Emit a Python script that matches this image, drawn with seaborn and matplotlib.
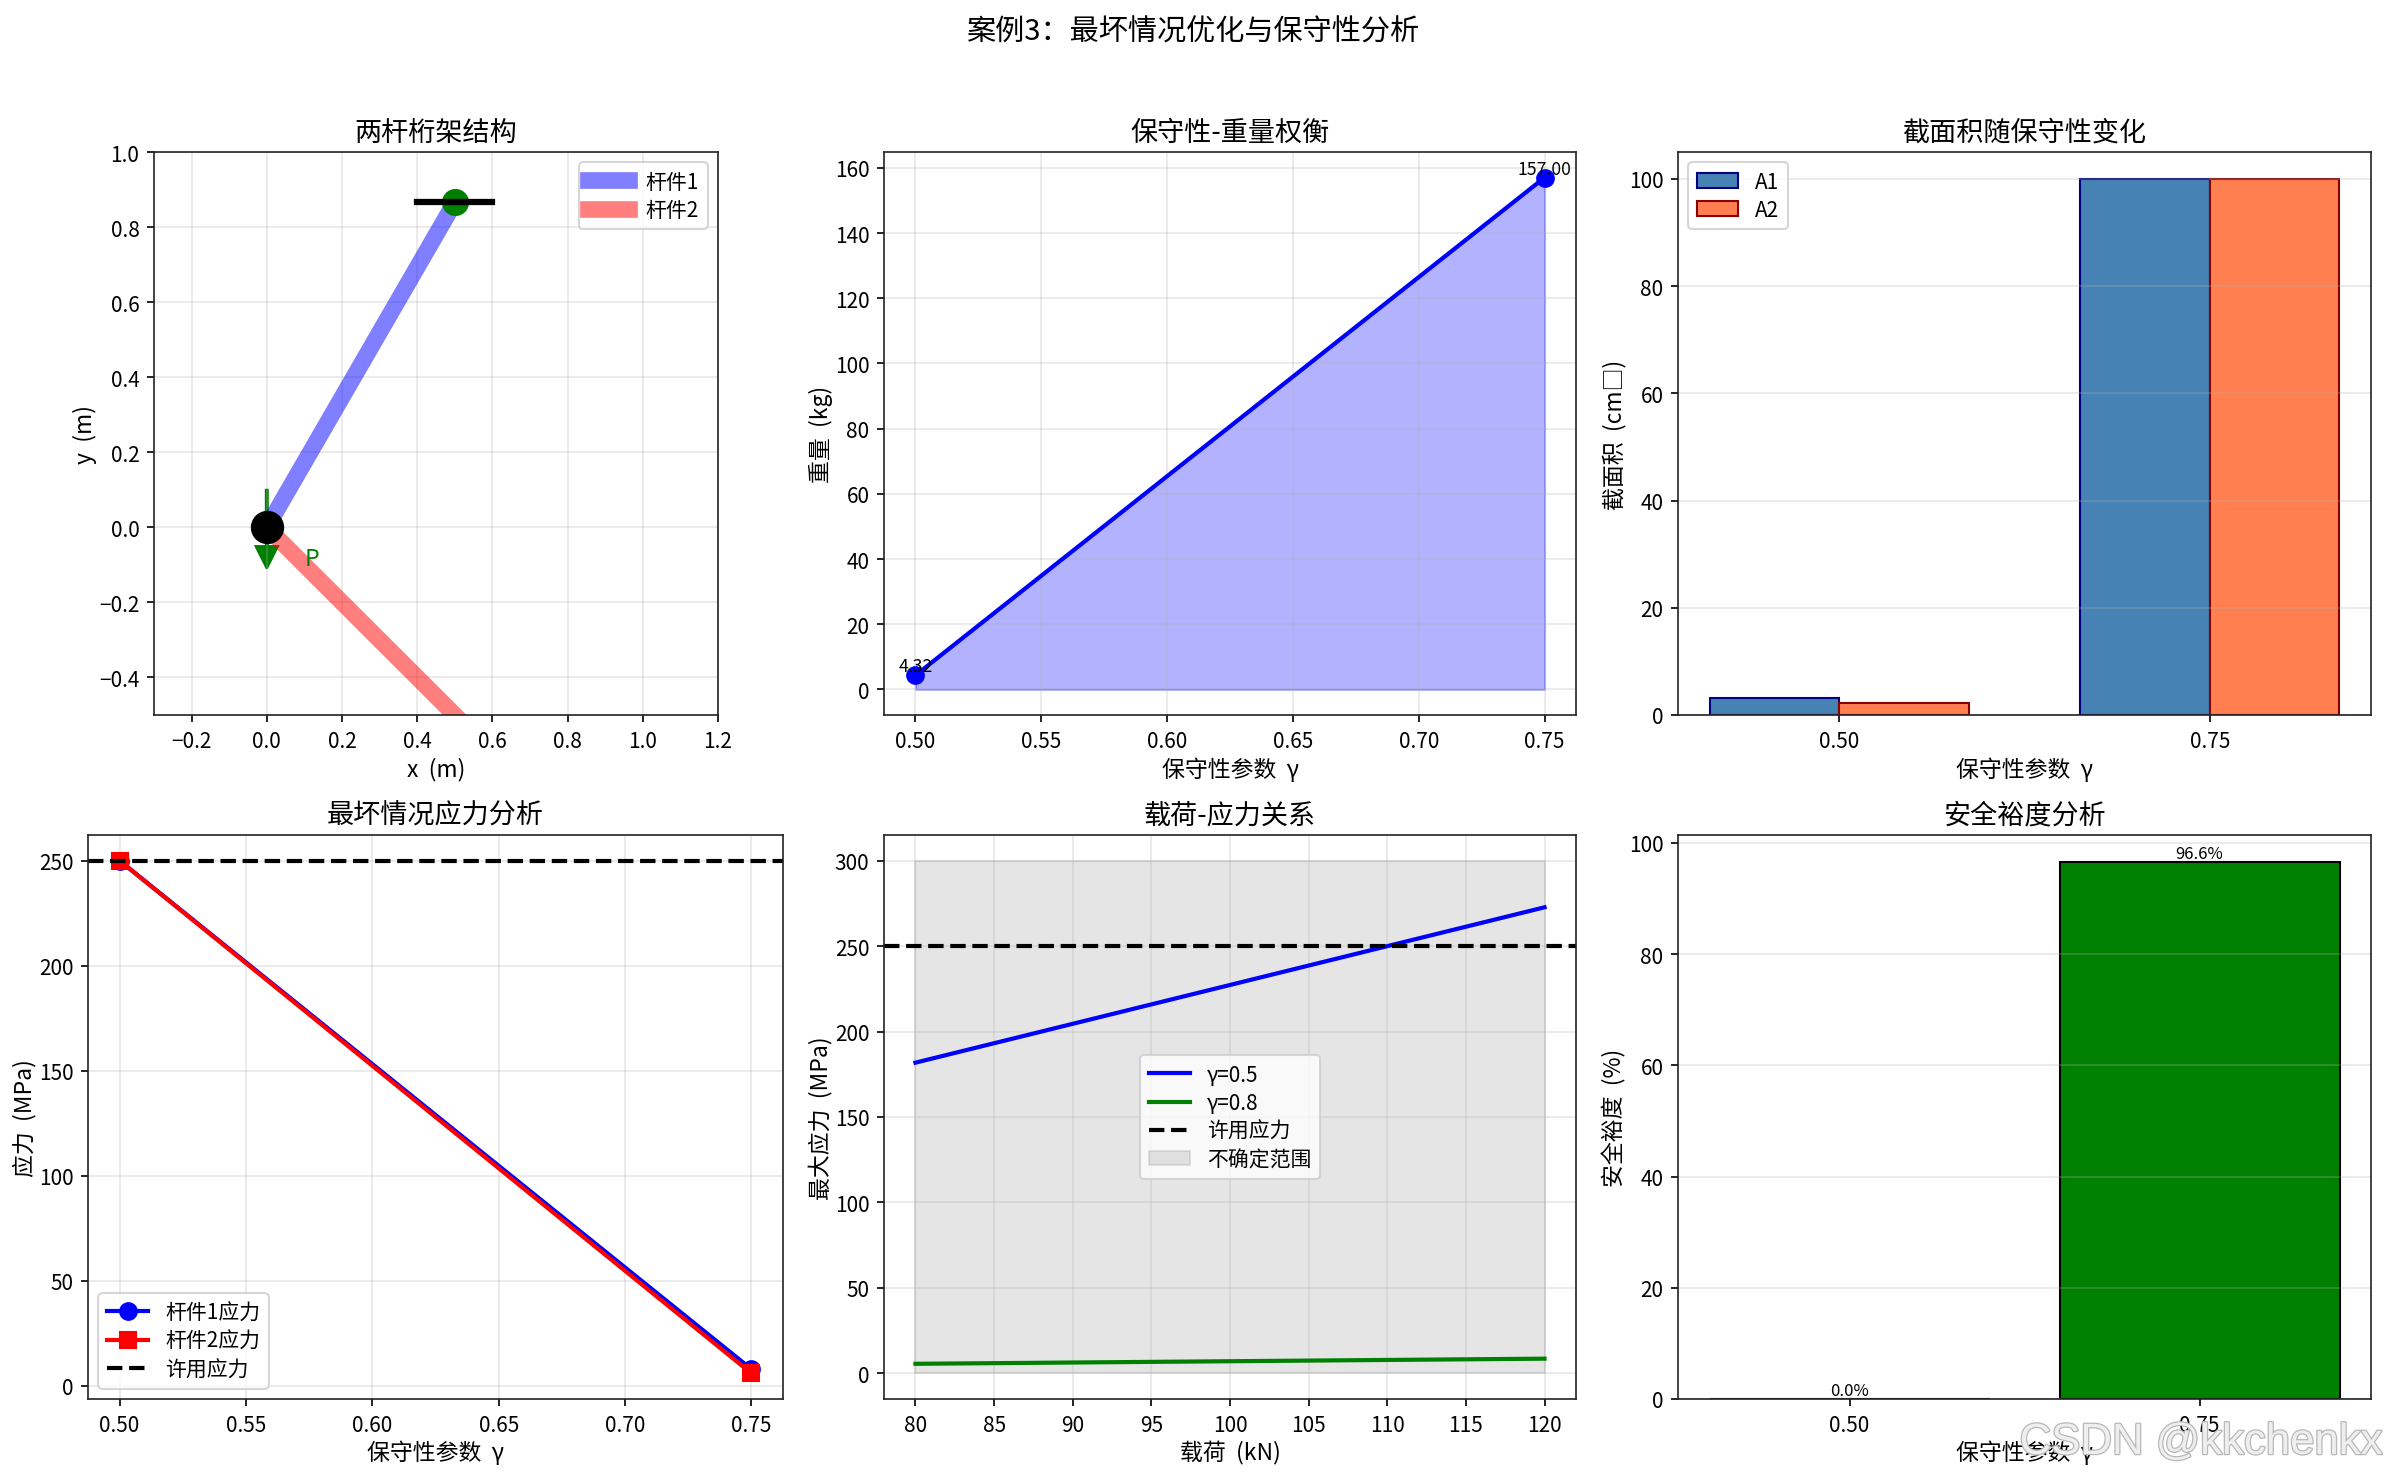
#Case 3 worst-case / conservativeness overview
import numpy as np
import pandas as pd
import matplotlib
matplotlib.use('Agg')
import matplotlib.pyplot as plt
import matplotlib.patheffects as pe
from matplotlib.patches import Patch
import seaborn as sns

# truss geometry
bar1_x = [0, 0.5]
bar1_y = [0, 0.866]
bar2_x = [0, 0.5]
bar2_y = [0, -0.5]
support_x = [0.4, 0.6]
support_y = [0.866, 0.866]
node_x = [0]
node_y = [0]
top_x = [0.5]
top_y = [0.866]
load_start = (0, 0.1)
load_delta = (0, -0.15)
load_label = (0.1, -0.1)

# sweep over gamma
gamma = [0.5, 0.75]
gamma_labels = ['0.50', '0.75']
weight = [4.32, 157.00]
area1 = [3.2, 100]
area2 = [2.3, 100]
stress1 = [250, 8]
stress2 = [250, 6]
allow_stress = 250
margin_pct = [0.0, 96.6]

# load vs stress
load = [80, 120]
stress_g05 = [181.8, 272.7]
stress_g08 = [5.6, 8.6]
band_low = [0, 0]
band_high = [300, 300]

W, H = 2385, 1477
plt.rcParams['font.family'] = ['Noto Sans CJK SC', 'DejaVu Sans']
plt.rcParams['axes.edgecolor'] = '#222222'
plt.rcParams['axes.labelsize'] = 11
plt.rcParams['axes.titlesize'] = 13
plt.rcParams['axes.labelpad'] = 1
plt.rcParams['legend.labelspacing'] = 0.3

fig = plt.figure(figsize=(W / 150, H / 150), dpi=150)


def make_ax(l, t, r, b):
    # pixel box -> figure fraction
    return fig.add_axes([l / W, 1 - b / H, (r - l) / W, (b - t) / H])


ax1 = make_ax(154, 153, 718, 716)
ax2 = make_ax(884, 153, 1576, 716)
ax3 = make_ax(1678, 153, 2371, 716)
ax4 = make_ax(88, 836, 783, 1400)
ax5 = make_ax(884, 836, 1576, 1400)
ax6 = make_ax(1678, 836, 2371, 1400)

gam_txt = '保守性参数  γ'

# structure
sns.lineplot(x=bar1_x, y=bar1_y, color='blue', lw=8, alpha=0.5, label='杆件1',
             estimator=None, sort=False, ax=ax1)
sns.lineplot(x=bar2_x, y=bar2_y, color='red', lw=8, alpha=0.5, label='杆件2',
             estimator=None, sort=False, ax=ax1)
ax1.plot(node_x, node_y, 'o', color='black', ms=15, zorder=4)
ax1.plot(top_x, top_y, 'o', color='green', ms=12, zorder=4)
ax1.plot(support_x, support_y, color='black', lw=3, zorder=5)
ax1.arrow(load_start[0], load_start[1], load_delta[0], load_delta[1], width=0.005,
          head_width=0.06, head_length=0.06, fc='green', ec='green')
ax1.text(load_label[0], load_label[1], 'P', color='green', fontsize=11)
ax1.set_xlim(-0.3, 1.2)
ax1.set_ylim(-0.5, 1.0)
ax1.set_xticks(np.arange(-0.2, 1.3, 0.2))
ax1.set_yticks(np.arange(-0.4, 1.1, 0.2))
ax1.set_xlabel('x  (m)', labelpad=2.5)
ax1.set_ylabel('y  (m)')
ax1.set_title('两杆桁架结构')
ax1.legend(loc='upper right')
ax1.grid(True, alpha=0.3)

# weight tradeoff
ax2.fill_between(gamma, 0, weight, color='blue', alpha=0.3)
sns.lineplot(x=gamma, y=weight, color='blue', lw=2, marker='o', ms=8,
             markeredgecolor='blue', markeredgewidth=1, estimator=None, ax=ax2)
for g, w in zip(gamma, weight):
    ax2.text(g, w, f'{w:.2f}', ha='center', va='bottom', fontsize=8.5)
ax2.set_xlabel(gam_txt, labelpad=2.5)
ax2.set_ylabel('重量  (kg)')
ax2.set_title('保守性-重量权衡')
ax2.grid(True, alpha=0.3)

# areas
area_df = pd.DataFrame({
    'gamma': gamma_labels * 2,
    'area': area1 + area2,
    'member': ['A1'] * 2 + ['A2'] * 2,
})
sns.barplot(data=area_df, x='gamma', y='area', hue='member',
            palette=['steelblue', 'coral'], saturation=1, width=0.7, gap=0,
            legend=False, ax=ax3)
for cont, edge in zip(ax3.containers, ['navy', 'darkred']):
    plt.setp(cont, edgecolor=edge, linewidth=1)
ax3.set_xlim(-0.435, 1.435)
ax3.set_xlabel(gam_txt, labelpad=2.5)
ax3.set_ylabel('截面积  (cm□)')
ax3.set_title('截面积随保守性变化')
ax3.legend(handles=[Patch(facecolor='steelblue', edgecolor='navy', label='A1'),
                    Patch(facecolor='coral', edgecolor='darkred', label='A2')],
           loc='upper left')
ax3.grid(True, alpha=0.3, axis='y')

# worst case stress
sns.lineplot(x=gamma, y=stress1, color='blue', lw=2, marker='o', ms=8,
             markeredgecolor='blue', markeredgewidth=1, label='杆件1应力',
             estimator=None, ax=ax4)
sns.lineplot(x=gamma, y=stress2, color='red', lw=2, marker='s', ms=8,
             markeredgecolor='red', markeredgewidth=1, label='杆件2应力',
             estimator=None, ax=ax4)
ax4.axhline(allow_stress, color='black', ls='--', lw=2, label='许用应力')
ax4.set_xlabel(gam_txt, labelpad=2)
ax4.set_ylabel('应力  (MPa)')
ax4.set_title('最坏情况应力分析')
ax4.legend(loc='lower left')
ax4.grid(True, alpha=0.3)

# load vs stress
sns.lineplot(x=load, y=stress_g05, color='blue', lw=2, label='γ=0.5', estimator=None, ax=ax5)
sns.lineplot(x=load, y=stress_g08, color='green', lw=2, label='γ=0.8', estimator=None, ax=ax5)
ax5.axhline(allow_stress, color='black', ls='--', lw=2, label='许用应力')
ax5.fill_between(load, band_low, band_high, color='gray', alpha=0.2, label='不确定范围')
ax5.set_xticks(np.arange(80, 121, 5))
ax5.set_xlabel('载荷  (kN)', labelpad=2)
ax5.set_ylabel('最大应力  (MPa)')
ax5.set_title('载荷-应力关系')
ax5.legend(loc='center')
ax5.grid(True, alpha=0.3)

# safety margin
margin_df = pd.DataFrame({'gamma': gamma_labels, 'margin': margin_pct})
sns.barplot(data=margin_df, x='gamma', y='margin', hue='gamma',
            palette=['red', 'green'], saturation=1, width=0.8, legend=False,
            edgecolor='black', linewidth=1, ax=ax6)
for i, m in enumerate(margin_pct):
    ax6.text(i, m, f'{m:.1f}%', ha='center', va='bottom', fontsize=8)
ax6.set_xlim(-0.49, 1.49)
ax6.set_ylim(0, 101.4)
ax6.set_xlabel(gam_txt, labelpad=2)
ax6.set_ylabel('安全裕度  (%)')
ax6.set_title('安全裕度分析')
ax6.grid(True, alpha=0.3, axis='y')

fig.suptitle('案例3：最坏情况优化与保守性分析', fontsize=14, x=0.5, y=1 - 33 / H, va='center')

# watermark on the source picture
fig.text(2383 / W, 1 - 1455 / H, 'CSDN @kkchenkx', ha='right', va='baseline',
         fontsize=21, family='Liberation Sans', color='#eeeeee', zorder=10,
         path_effects=[pe.withStroke(linewidth=1.2, foreground='#b8b8b8')])

fig.savefig('out.png', dpi=150)
